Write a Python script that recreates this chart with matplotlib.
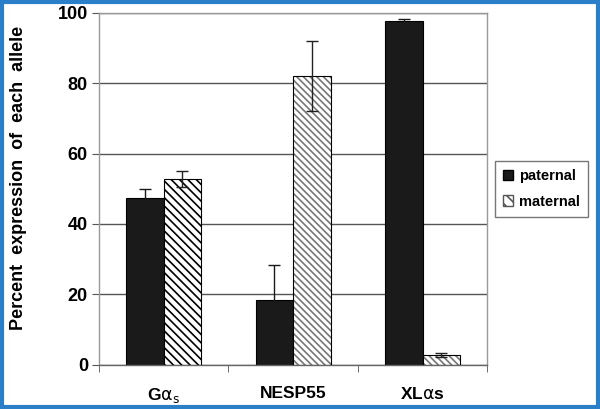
import matplotlib.pyplot as plt
import numpy as np
from matplotlib.patches import Rectangle

genes = [r'G$\mathrm{\alpha}_\mathrm{s}$', 'NESP55', r'XL$\mathrm{\alpha}$s']
paternal = [47.3, 18.3, 97.5]
paternal_err = [2.6, 10.0, 0.7]
maternal = [52.7, 82.0, 2.8]
maternal_err = [2.3, 10.0, 0.7]
# first maternal bar uses denser, darker hatching than the others
maternal_hatch = ['\\\\\\\\', '\\\\\\\\\\', '\\\\\\\\\\']
maternal_hatch_color = ['black', '#777777', '#777777']

plt.rcParams['font.family'] = 'Liberation Sans'
plt.rcParams['hatch.linewidth'] = 1.2

fig = plt.figure(figsize=[6, 4.09], dpi=100)
ax = fig.add_axes([0.165, 0.108, 0.647, 0.861])

x = np.arange(len(genes))
w = 0.29

ax.bar(x - w / 2, paternal, w, color='#1a1a1a', edgecolor='black', linewidth=0.8,
       label='paternal', zorder=2)
for i in range(len(genes)):
    ax.bar(x[i] + w / 2, maternal[i], w, color='white', edgecolor=maternal_hatch_color[i],
           hatch=maternal_hatch[i], linewidth=0, zorder=2)
    ax.bar(x[i] + w / 2, maternal[i], w, fill=False, edgecolor='black', linewidth=0.8, zorder=3)

ax.errorbar(x - w / 2, paternal, yerr=paternal_err, fmt='none', ecolor='#1a1a1a',
            elinewidth=1, capsize=4, capthick=1, zorder=4)
ax.errorbar(x + w / 2, maternal, yerr=maternal_err, fmt='none', ecolor='#222222',
            elinewidth=1, capsize=4, capthick=1, zorder=4)

ax.set_xlim(-0.5, 2.5)
ax.set_ylim(0, 100)
ax.set_yticks(np.arange(0, 101, 20))
ax.set_xticks(x)
ax.set_xticklabels(genes, fontsize=12.5, fontweight='bold')
ax.set_xticks([-0.5, 0.5, 1.5, 2.5], minor=True)
ax.tick_params(axis='x', which='major', length=0, pad=15)
ax.tick_params(axis='x', which='minor', length=5, color='#555555', direction='out')
ax.tick_params(axis='y', length=5, color='#555555', labelsize=13, pad=3)
for lab in ax.get_yticklabels():
    lab.set_fontweight('bold')

ax.yaxis.grid(True, color='#555555', linewidth=1)
ax.set_axisbelow(True)
for s in ax.spines.values():
    s.set_color('#999999')
    s.set_linewidth(1)
ax.spines['bottom'].set_color('#666666')

ax.set_ylabel('Percent  expression  of  each  allele', fontsize=13, fontweight='bold')
ax.yaxis.set_label_coords(-0.185, 0.53)

# legend with plain square handles
h1 = Rectangle((0, 0), 1, 1, facecolor='#1a1a1a', edgecolor='black')
h2 = Rectangle((0, 0), 1, 1, facecolor='white', edgecolor='#555555', hatch='\\\\\\')
leg = ax.legend([h1, h2], ['paternal', 'maternal'], loc='center left',
                bbox_to_anchor=(1.02, 0.5), fancybox=False, framealpha=1,
                edgecolor='#777777', prop={'weight': 'bold', 'size': 10.5},
                handlelength=0.7, handleheight=0.7, handletextpad=0.4,
                borderpad=0.55, borderaxespad=0, labelspacing=0.8)
leg.get_frame().set_linewidth(1)

# blue border around the figure
fig.patches.append(Rectangle((0.003, 0.004), 0.994, 0.992, transform=fig.transFigure,
                             fill=False, edgecolor='#2a7fc8', linewidth=3))

fig.savefig('out.png', dpi=100)
